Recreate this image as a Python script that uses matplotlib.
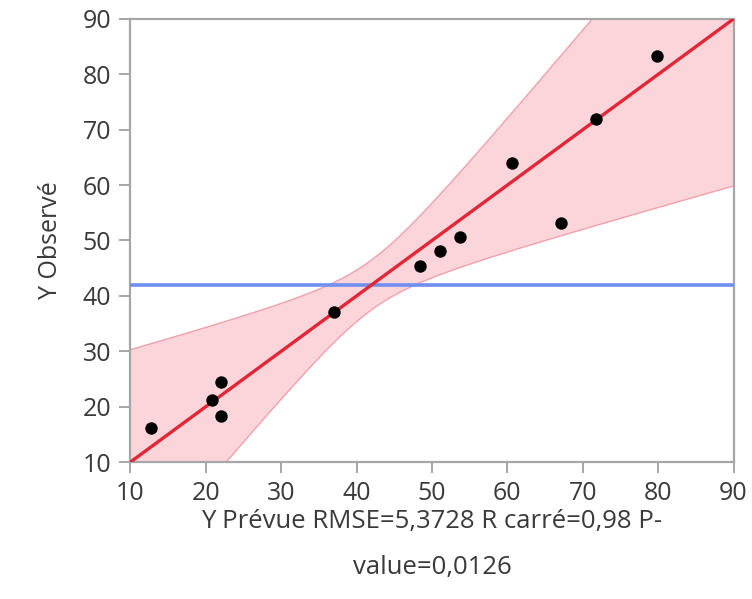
import numpy as np
import matplotlib
matplotlib.use("Agg")
import matplotlib.pyplot as plt

plt.rcParams['font.family'] = ['Open Sans', 'DejaVu Sans']

# Predicted vs observed values
y_pred = [12.7, 20.8, 22.0, 22.0, 37.0, 48.4, 51.1, 53.7, 60.6, 67.1, 71.7, 79.8]
y_obs = [16.1, 21.2, 24.4, 18.3, 37.1, 45.4, 48.1, 50.6, 64.0, 53.1, 71.9, 83.3]

# Mean of the response (horizontal reference line)
y_mean = 41.9

# Confidence curve parameters around the fit line
band_min_halfwidth = 4.5
band_slope = 0.62

ticks = [10, 20, 30, 40, 50, 60, 70, 80, 90]
x_label = "Y Prévue RMSE=5,3728 R carré=0,98 P-\nvalue=0,0126"
y_label = "Y Observé"

fig = plt.figure(figsize=(7.52, 5.99), dpi=100)
ax = fig.add_axes([0.1735, 0.2287, 0.8019, 0.7396])

xs = np.linspace(ticks[0], ticks[-1], 400)
hw = np.sqrt(band_min_halfwidth ** 2 + (band_slope * (xs - y_mean)) ** 2)
ax.fill_between(xs, xs - hw, xs + hw, color='#fbd5da', lw=0, zorder=1)
ax.plot(xs, xs + hw, color='#f2a0aa', lw=1.0, zorder=2)
ax.plot(xs, xs - hw, color='#f2a0aa', lw=1.0, zorder=2)

ax.axhline(y_mean, color='#6f8ff0', lw=2.6, zorder=3)
ax.plot([ticks[0], ticks[-1]], [ticks[0], ticks[-1]], color='#e32636', lw=2.4, zorder=4)
ax.scatter(y_pred, y_obs, s=80, color='black', zorder=5, linewidths=0)

ax.set_xlim(ticks[0], ticks[-1])
ax.set_ylim(ticks[0], ticks[-1])
ax.set_xticks(ticks)
ax.set_yticks(ticks)

for sp in ax.spines.values():
    sp.set_color('#a6a6a6')
    sp.set_linewidth(1.6)

ax.tick_params(axis='both', which='major', direction='out', length=8, width=1.4,
               color='#a6a6a6', labelsize=18, labelcolor='#3a3a3a')
ax.tick_params(axis='y', pad=6)
ax.tick_params(axis='x', pad=6)

ax.set_xlabel(x_label, fontsize=18.5, color='#3a3a3a', labelpad=2, linespacing=2.08)
ax.set_ylabel(y_label, fontsize=18, color='#3a3a3a', labelpad=14)

fig.savefig("out.png", dpi=100)
